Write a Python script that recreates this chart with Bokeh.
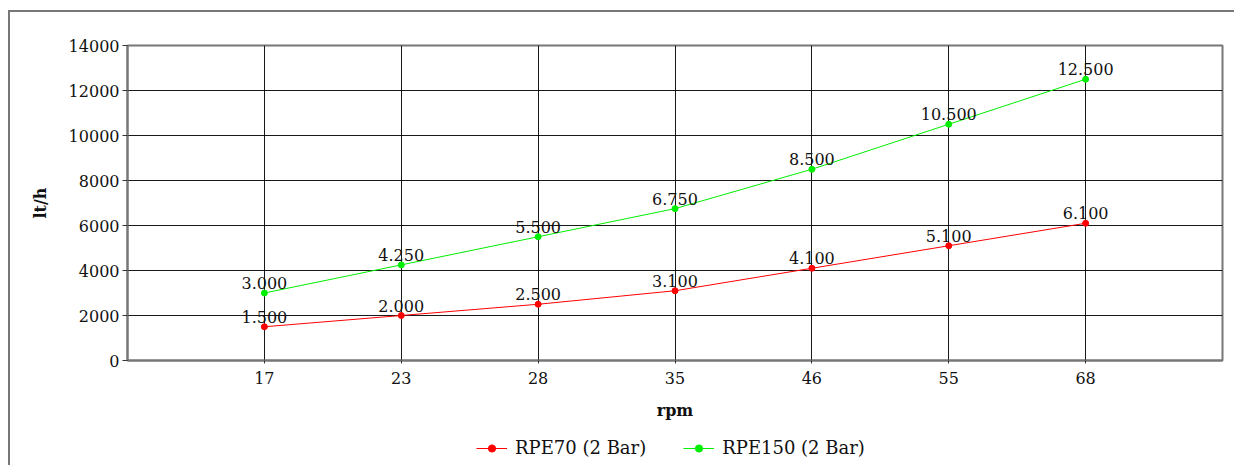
from bokeh.plotting import figure
from bokeh.layouts import column
from bokeh.models import (ColumnDataSource, FixedTicker, LabelSet, Legend, LegendItem)
from bokeh.core.properties import value
from bokeh.embed import file_html
from bokeh.resources import INLINE

categories = ["17", "23", "28", "35", "46", "55", "68"]
rpe70 = [1500, 2000, 2500, 3100, 4100, 5100, 6100]
rpe150 = [3000, 4250, 5500, 6750, 8500, 10500, 12500]
y_ticks = [0, 2000, 4000, 6000, 8000, 10000, 12000, 14000]
series_names = ["RPE70 (2 Bar)", "RPE150 (2 Bar)"]

FONT = "DejaVu Serif"
RED = "#ff0000"
GREEN = "#00ee00"

xs = list(range(1, len(categories) + 1))

def fmt(v):
    return f"{v:,}".replace(",", ".")

src70 = ColumnDataSource(dict(x=xs, y=rpe70, t=[fmt(v) for v in rpe70]))
src150 = ColumnDataSource(dict(x=xs, y=rpe150, t=[fmt(v) for v in rpe150]))

p = figure(width=1224, height=413, output_backend="svg", toolbar_location=None,
           x_range=(0, len(categories) + 1), y_range=(0, 14000),
           min_border_left=117, min_border_right=12, min_border_top=33,
           min_border_bottom=65)

p.outline_line_color = "#777777"
p.outline_line_width = 2

p.xaxis.ticker = FixedTicker(ticks=xs)
p.xaxis.major_label_overrides = {x: c for x, c in zip(xs, categories)}
p.yaxis.ticker = FixedTicker(ticks=y_ticks)
p.xgrid.ticker = FixedTicker(ticks=xs)
p.ygrid.ticker = FixedTicker(ticks=y_ticks)

for ax in (p.xaxis[0], p.yaxis[0]):
    ax.axis_line_color = "#777777"
    ax.axis_line_width = 2
    ax.major_tick_line_color = "#333333"
    ax.minor_tick_line_color = None
    ax.major_tick_in = 0
    ax.major_label_text_font = FONT
    ax.major_label_text_font_size = "16px"
    ax.major_label_text_color = "#111111"
    ax.axis_label_text_font = FONT
    ax.axis_label_text_font_size = "16px"
    ax.axis_label_text_font_style = "bold"
    ax.axis_label_text_color = "#111111"

p.xaxis.major_tick_out = 3
p.yaxis.major_tick_out = 5
p.xaxis.major_label_standoff = 8
p.yaxis.major_label_standoff = 3
p.xaxis.axis_label = "rpm"
p.xaxis.axis_label_standoff = 14
p.yaxis.axis_label = "lt/h"
p.yaxis.axis_label_standoff = 16

p.grid.grid_line_color = "#000000"
p.grid.grid_line_width = 1
p.grid.grid_line_alpha = 0.9

p.line("x", "y", source=src70, color=RED, line_width=1)
p.scatter("x", "y", source=src70, color=RED, size=6)
p.line("x", "y", source=src150, color=GREEN, line_width=1)
p.scatter("x", "y", source=src150, color=GREEN, size=6)

for s in (src70, src150):
    p.add_layout(LabelSet(x="x", y="y", text="t", source=s, text_align="center",
                          text_baseline="bottom", y_offset=4, text_font=value(FONT),
                          text_font_size="16px", text_color="#111111"))

# legend strip below the chart (its series lie outside this strip's view)
lf = figure(width=1224, height=40, output_backend="svg", toolbar_location=None,
            x_range=(0, 1), y_range=(0, 1), x_axis_type=None, y_axis_type=None,
            min_border=0)
lf.outline_line_color = None
lf.grid.visible = False
items = []
for name, col, s in zip(series_names, [RED, GREEN], [src70, src150]):
    lr = lf.line("x", "y", source=s, color=col, line_width=1)
    sr = lf.scatter("x", "y", source=s, color=col, size=6)
    items.append(LegendItem(label=name, renderers=[lr, sr]))

legend = Legend(items=items, orientation="horizontal", location=(349, 7),
                glyph_width=31, glyph_height=18, label_standoff=8, spacing=37,
                padding=0, margin=0, border_line_color=None,
                background_fill_alpha=0, label_text_font=FONT,
                label_text_font_size="18px", label_text_color="#111111")
lf.add_layout(legend, "center")

layout = column(p, lf, spacing=0)
layout.styles = {"border-top": "2px solid #777777", "border-left": "2px solid #777777",
                 "margin-top": "10px", "margin-left": "8px"}

open("out.html", "w").write(file_html(layout, INLINE))
